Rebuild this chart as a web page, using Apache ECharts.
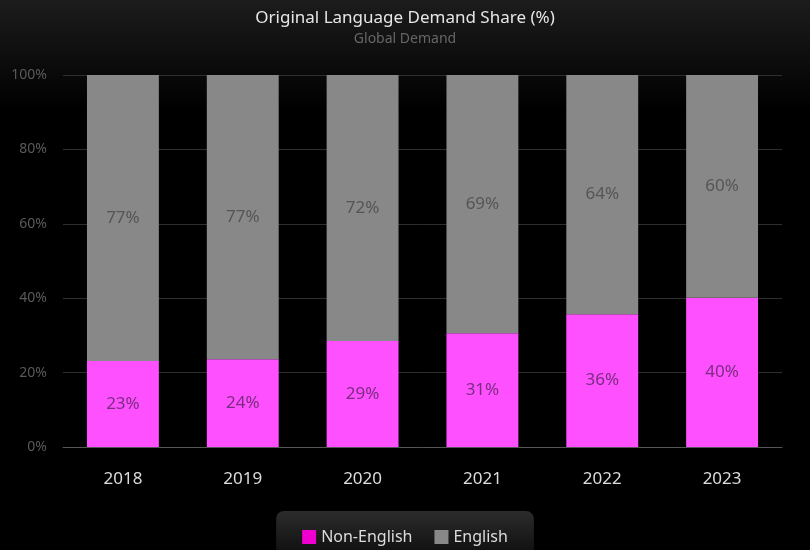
<!DOCTYPE html>
<html>
<head>
<meta charset="utf-8">
<script src="https://cdn.jsdelivr.net/npm/echarts@6/dist/echarts.min.js"></script>
<style>
  html, body { margin: 0; padding: 0; background: #000; }
  #chart { width: 810px; height: 550px; }
</style>
</head>
<body>
<div id="chart"></div>
<script>
// Chart data
const years = ['2018', '2019', '2020', '2021', '2022', '2023'];
const nonEnglish = [23.1, 23.6, 28.5, 30.6, 35.7, 40.1];
const english = [76.9, 76.6, 71.5, 69.4, 64.3, 59.9];
const yTicks = [0, 20, 40, 60, 80, 100];

const chart = echarts.init(document.getElementById('chart'));

const option = {
  animation: false,
  backgroundColor: new echarts.graphic.LinearGradient(0, 0, 0, 1, [
    { offset: 0, color: '#1c1c1c' },
    { offset: 0.2, color: '#000000' },
    { offset: 1, color: '#000000' }
  ]),
  textStyle: { fontFamily: 'Noto Sans' },
  title: {
    text: 'Original Language Demand Share (%)',
    subtext: 'Global Demand',
    left: 'center',
    top: 5,
    itemGap: 5,
    textStyle: { color: '#e6e6e6', fontSize: 17, fontWeight: 'normal' },
    subtextStyle: { color: '#666', fontSize: 14 }
  },
  legend: {
    bottom: -19,
    left: 'center',
    padding: [18, 26, 24, 26],
    itemGap: 22,
    itemWidth: 14,
    itemHeight: 14,
    borderRadius: 8,
    backgroundColor: new echarts.graphic.LinearGradient(0, 0, 0, 1, [
      { offset: 0, color: '#2c2c2c' },
      { offset: 1, color: '#050505' }
    ]),
    textStyle: { color: '#dcdcdc', fontSize: 16 },
    data: [
      { name: 'Non-English', icon: 'rect', itemStyle: { color: '#f000d0' } },
      { name: 'English', icon: 'rect', itemStyle: { color: '#888888' } }
    ]
  },
  grid: { left: 63, right: 28, top: 75, bottom: 103 },
  xAxis: {
    type: 'category',
    data: years,
    axisLine: { lineStyle: { color: '#555' } },
    axisTick: { show: false },
    axisLabel: { color: '#dcdcdc', fontSize: 17, margin: 24 }
  },
  yAxis: {
    type: 'value',
    min: yTicks[0],
    max: yTicks[yTicks.length - 1],
    interval: 20,
    axisLine: { show: false },
    axisTick: { show: false },
    axisLabel: { color: '#5a5a5a', fontSize: 14, margin: 16, formatter: '{value}%' },
    splitLine: { lineStyle: { color: '#2e2e2e' } }
  },
  series: [
    {
      name: 'Non-English',
      type: 'bar',
      stack: 'share',
      barWidth: '60%',
      data: nonEnglish,
      itemStyle: { color: '#ff50ff' },
      label: {
        show: true,
        position: 'inside',
        color: '#7a2d80',
        fontSize: 17,
        formatter: p => Math.round(p.value) + '%'
      }
    },
    {
      name: 'English',
      type: 'bar',
      stack: 'share',
      barWidth: '60%',
      data: english,
      itemStyle: { color: '#888888' },
      label: {
        show: true,
        position: 'inside',
        color: '#555555',
        fontSize: 17,
        formatter: p => Math.round(p.value) + '%'
      }
    }
  ]
};

chart.setOption(option);
</script>
</body>
</html>
